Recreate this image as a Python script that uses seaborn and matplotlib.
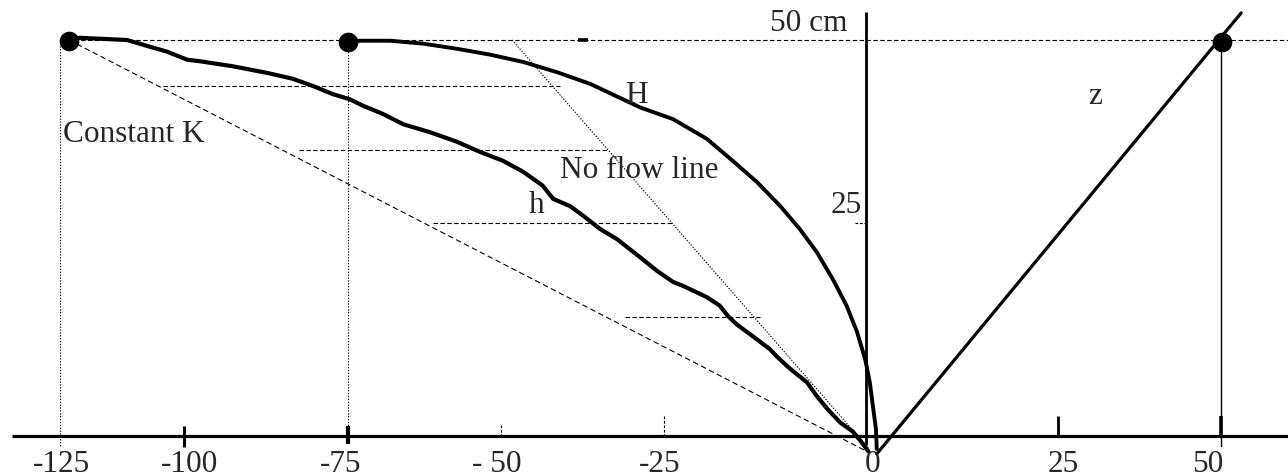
import numpy as np
import matplotlib
matplotlib.use("Agg")
import matplotlib.pyplot as plt
import seaborn as sns

# ---------------- data (cm) ----------------
# h : pressure head curve
h_x = [-123.2, -121.0, -111.5, -107.5, -103.4, -99.5, -97.6, -92.5, -87.3, -83.4, -80.3,
       -77.3, -74.7, -72.5, -69.3, -66.0, -61.6, -57.2, -53.4, -49.7, -46.6, -43.6, -42.0,
       -39.4, -37.4, -34.8, -32.2, -28.7, -26.1, -23.9, -22.6, -19.7, -18.1, -17.1, -16.0,
       -14.0, -11.9, -11.0, -9.4, -7.3, -6.1, -4.8, -3.2, -1.6, -0.4, 0.3]
h_y = [49.9, 50.3, 50.0, 49.2, 48.4, 47.3, 47.1, 46.4, 45.5, 44.7, 43.7,
       42.6, 41.9, 41.0, 39.9, 38.5, 37.4, 36.1, 34.7, 33.5, 32.0, 30.1, 28.3,
       27.3, 26.0, 24.3, 23.1, 21.0, 19.4, 18.1, 17.6, 16.3, 15.3, 14.1, 13.1,
       11.7, 10.2, 9.3, 7.9, 6.3, 4.7, 3.2, 1.6, 0.5, -0.9, -1.8]
# H : hydraulic head curve
H_x = [-75.0, -73.0, -68.1, -62.7, -57.2, -51.8, -46.6, -41.4, -36.3, -31.3, -28.7,
       -23.9, -19.7, -16.5, -13.5, -10.6, -8.2, -6.1, -4.1, -2.4, -1.1, -0.1, 0.5,
       0.9, 1.3, 1.4]
H_y = [49.7, 49.9, 49.9, 49.5, 48.8, 48.0, 47.0, 45.6, 44.0, 41.9, 40.8,
       39.2, 36.5, 33.5, 30.6, 27.3, 24.3, 21.6, 18.4, 15.3, 12.2, 9.0, 6.3,
       3.5, 0.8, -1.5]
# z : elevation line
z_x = [1.4, 53.1]
z_y = [-2.1, 53.7]
# constant K straight line
k_x = [-123.2, 0.1]
k_y = [50.0, -1.8]
# no flow line
nf_x = [-48.3, 0.3]
nf_y = [50.0, -1.4]
# horizontal dashed segments
eq_y = [43.7, 35.0, 25.0, 14.0]
eq_x0 = [-104.2, -82.5, -61.1, -31.0]
eq_x1 = [-41.0, -33.7, -23.9, -13.1]
# dots
dot_x = [-123.2, -75.0, 50.2]
dot_y = [49.9, 49.7, 49.7]
# x tick labels
tick_labels = ['-125', '-100', '-75', '- 50', '-25', '0', '25', '50']
tick_label_x = [-124.8, -99.2, -76.2, -50.7, -25.6, 0.8, 25.8, 48.0]

# ---------------- style ----------------
sns.set_theme(style="white")
plt.rcParams['font.family'] = ['Liberation Serif', 'DejaVu Serif']
FS = 22.5

fig = plt.figure(figsize=(12.88, 4.77), dpi=100)
ax = fig.add_axes([0, 0, 1, 1])
ax.set_axis_off()

# hand-drawn, piecewise-linear axes of the original figure
xb_nom = [-140, -125, -100, -75, -50, -25, 0, 25, 50, 70]
xb_pos = [-14.4, 60, 184, 348, 501, 664, 866, 1058, 1221, 1351.4]
yb_nom = [-10, 0, 25, 50, 60]
yb_pos = [-522.2, -437, -224, -41, 32.2]

ax.set_xscale('function', functions=(lambda v: np.interp(v, xb_nom, xb_pos),
                                     lambda p: np.interp(p, xb_pos, xb_nom)))
ax.set_yscale('function', functions=(lambda v: np.interp(v, yb_nom, yb_pos),
                                     lambda p: np.interp(p, yb_pos, yb_nom)))
ax.set_xlim(-137.1, 60.28)
ax.set_ylim(-4.69, 55.6)

thin = 0.8
dash = (0, (4.0, 2.2))
dot = (0, (1.2, 1.4))

# axes lines
ax.plot([-134.7, 60.3], [0, 0], color='black', lw=2.3, solid_capstyle='butt')
ax.plot([0, 0], [53.8, -1.0], color='black', lw=2.0, solid_capstyle='butt')
# top reference line (50 cm)
ax.plot([-125, 60.3], [50, 50], color='black', lw=thin, ls=dash)
ax.plot([-38.2, -36.7], [50, 50], color='black', lw=2.6, solid_capstyle='butt')
# vertical guide lines
ax.plot([-125, -125], [50, -1.3], color='black', lw=thin, ls=dot)
ax.plot([-75, -75], [50, -0.9], color='black', lw=thin, ls=dot)
ax.plot([50, 50], [49.7, -1.2], color='black', lw=1.0)

# tick marks
ax.plot([-100, -100], [1.2, -1.3], color='black', lw=2.2, solid_capstyle='butt')
ax.plot([-75, -75], [1.2, -0.9], color='black', lw=3.0, solid_capstyle='butt')
ax.plot([-50, -50], [1.3, 0], color='black', lw=thin, ls=(0, (2.5, 1.5)))
ax.plot([-25, -25], [2.3, 0], color='black', lw=thin, ls=(0, (2.5, 1.5)))
ax.plot([25, 25], [2.3, 0], color='black', lw=2.0, solid_capstyle='butt')
ax.plot([50, 50], [2.3, 0], color='black', lw=2.6, solid_capstyle='butt')
ax.plot([-1.4, 0], [25, 25], color='black', lw=thin, ls=(0, (2.5, 1.5)))

# equipotential dashed segments
for y, x0, x1 in zip(eq_y, eq_x0, eq_x1):
    ax.plot([x0, x1], [y, y], color='black', lw=thin, ls=dash)

# constant K and no flow lines
ax.plot(k_x, k_y, color='black', lw=thin, ls=(0, (5.0, 3.0)))
ax.plot(nf_x, nf_y, color='black', lw=thin, ls=dot)

# curves
sns.lineplot(x=h_x, y=h_y, ax=ax, color='black', lw=3.0, sort=False,
             estimator=None, legend=False, solid_joinstyle='round')
sns.lineplot(x=H_x, y=H_y, ax=ax, color='black', lw=2.8, sort=False,
             estimator=None, legend=False, solid_joinstyle='round')
sns.lineplot(x=z_x, y=z_y, ax=ax, color='black', lw=2.3, sort=False,
             estimator=None, legend=False)

# dots
sns.scatterplot(x=dot_x, y=dot_y, ax=ax, color='black', s=200, linewidth=0,
                legend=False, zorder=5)

# texts
ax.text(-124.4, 36.2, 'Constant K', fontsize=FS, ha='left', va='baseline')
ax.text(-41.0, 31.3, 'No flow line', fontsize=FS, ha='left', va='baseline')
ax.text(-29.3, 41.5, 'H', fontsize=FS, ha='center', va='baseline')
ax.text(-44.6, 26.5, 'h', fontsize=FS, ha='center', va='baseline')
ax.text(30.7, 41.4, 'z', fontsize=FS, ha='center', va='baseline')
ax.text(-2.3, 51.4, '50 cm', fontsize=FS, ha='right', va='baseline')
ax.text(-0.5, 26.5, '25', fontsize=FS, ha='right', va='baseline')
for lx, lab in zip(tick_label_x, tick_labels):
    ax.text(lx, -4.1, lab, fontsize=FS, ha='center', va='baseline')

fig.savefig('out.png', dpi=100, facecolor='white')
